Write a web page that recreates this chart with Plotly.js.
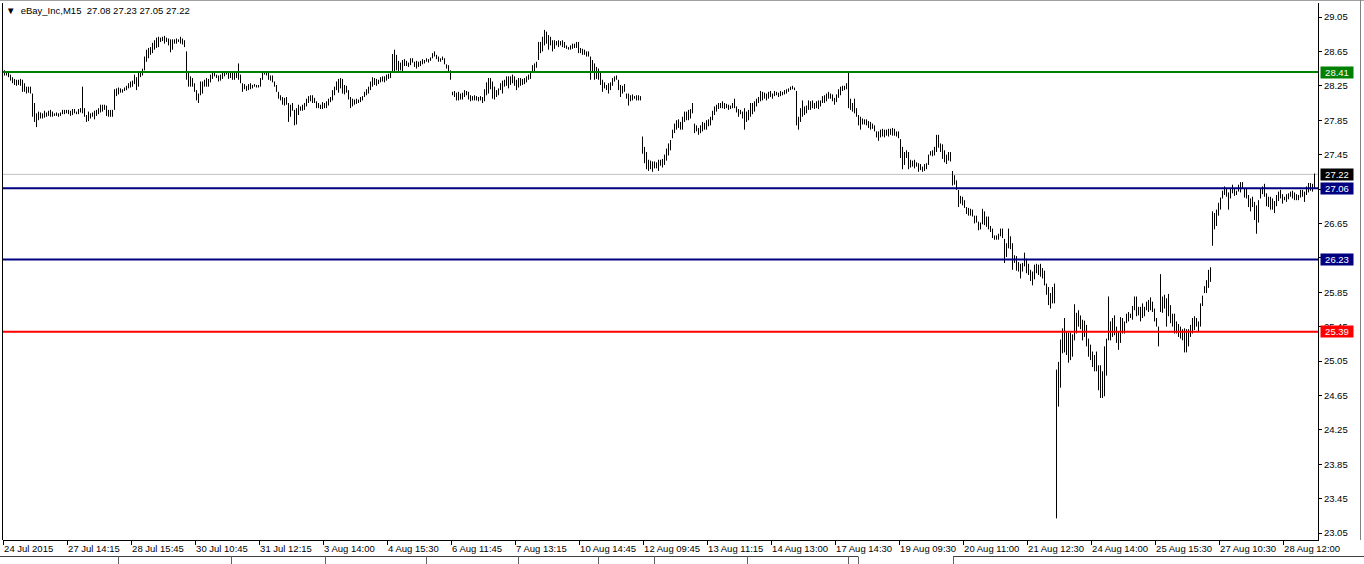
<!DOCTYPE html>
<html>
<head>
<meta charset="utf-8">
<script src="https://cdn.plot.ly/plotly-3.0.1.min.js"></script>
<style>
html,body{margin:0;padding:0;background:#ffffff;overflow:hidden;}
#chart{width:1364px;height:564px;}
</style>
</head>
<body>
<div id="chart"></div>
<script>
// ---------------- data ----------------
const symbol = "eBay_Inc,M15";
const lastBar = [27.08, 27.23, 27.05, 27.22]; // open, high, low, close of last bar
const bidPrice = 27.22;

const highs = [
28.43,28.42,28.41,28.38,28.35,28.33,28.32,28.32,28.33,28.32,
28.28,28.24,28.24,28.24,28.16,28.05,27.93,27.95,27.94,27.93,
27.96,27.94,27.96,27.97,27.95,27.93,27.94,27.93,27.94,27.97,
27.97,27.97,27.97,27.96,27.98,27.98,27.95,27.98,27.99,28.24,
27.99,27.91,27.95,27.93,27.94,27.96,27.97,27.99,28.03,28.03,
28.03,28.02,27.97,27.97,27.97,28.21,28.22,28.23,28.22,28.21,
28.23,28.25,28.28,28.30,28.31,28.38,28.35,28.40,28.42,28.45,
28.59,28.67,28.69,28.70,28.75,28.78,28.81,28.82,28.81,28.82,
28.83,28.81,28.80,28.79,28.79,28.79,28.80,28.79,28.82,28.80,
28.78,28.65,28.41,28.36,28.34,28.28,28.20,28.16,28.30,28.30,
28.32,28.34,28.33,28.38,28.41,28.41,28.38,28.37,28.38,28.40,
28.41,28.42,28.41,28.41,28.40,28.40,28.41,28.51,28.38,28.28,
28.27,28.25,28.27,28.28,28.26,28.27,28.26,28.26,28.34,28.42,
28.42,28.42,28.40,28.37,28.37,28.30,28.26,28.18,28.14,28.12,
28.11,28.12,28.05,28.03,28.05,27.97,27.99,28.03,28.01,28.03,
28.05,28.10,28.13,28.14,28.14,28.11,28.07,28.05,28.03,28.06,
28.05,28.07,28.10,28.12,28.20,28.24,28.30,28.33,28.34,28.33,
28.26,28.25,28.20,28.12,28.10,28.09,28.10,28.09,28.12,28.13,
28.18,28.21,28.24,28.30,28.35,28.34,28.33,28.32,28.35,28.36,
28.36,28.38,28.39,28.40,28.62,28.67,28.61,28.54,28.52,28.55,
28.56,28.54,28.52,28.57,28.57,28.53,28.54,28.53,28.54,28.56,
28.55,28.57,28.56,28.58,28.63,28.65,28.61,28.59,28.57,28.59,
28.57,28.50,28.49,28.43,28.18,28.19,28.17,28.18,28.16,28.17,
28.20,28.19,28.18,28.14,28.13,28.14,28.13,28.12,28.13,28.12,
28.21,28.29,28.34,28.34,28.30,28.24,28.20,28.22,28.28,28.31,
28.32,28.36,28.36,28.36,28.38,28.36,28.32,28.34,28.34,28.33,
28.34,28.36,28.38,28.40,28.49,28.51,28.53,28.76,28.76,28.82,
28.90,28.88,28.84,28.82,28.78,28.78,28.77,28.78,28.77,28.78,
28.76,28.72,28.70,28.72,28.74,28.74,28.76,28.76,28.69,28.68,
28.67,28.65,28.65,28.59,28.55,28.51,28.47,28.45,28.40,28.32,
28.29,28.26,28.28,28.29,28.34,28.36,28.37,28.32,28.26,28.25,
28.27,28.16,28.16,28.14,28.15,28.13,28.14,28.14,28.13,27.66,
27.54,27.48,27.39,27.38,27.37,27.37,27.36,27.39,27.39,27.40,
27.45,27.52,27.58,27.62,27.74,27.81,27.85,27.86,27.83,27.89,
27.95,27.95,27.97,27.98,28.05,27.81,27.79,27.76,27.79,27.83,
27.82,27.85,27.86,27.89,27.96,28.01,28.03,28.05,28.05,28.07,
28.05,28.04,28.03,28.02,28.05,28.10,28.01,27.98,27.97,27.95,
27.99,27.95,27.97,28.05,28.05,28.07,28.10,28.12,28.19,28.18,
28.17,28.16,28.18,28.19,28.16,28.19,28.18,28.17,28.19,28.18,
28.20,28.21,28.22,28.24,28.25,28.23,28.19,27.89,27.99,28.08,
28.01,28.02,28.08,28.07,28.08,28.05,28.07,28.08,28.08,28.13,
28.14,28.16,28.18,28.16,28.15,28.11,28.15,28.21,28.24,28.25,
28.25,28.28,28.42,28.10,28.05,28.10,27.99,27.91,27.89,27.87,
27.86,27.86,27.84,27.83,27.81,27.79,27.72,27.72,27.74,27.75,
27.74,27.74,27.75,27.75,27.76,27.75,27.72,27.72,27.63,27.54,
27.48,27.50,27.48,27.39,27.38,27.39,27.36,27.35,27.34,27.31,
27.34,27.35,27.45,27.49,27.50,27.54,27.68,27.68,27.58,27.57,
27.50,27.45,27.48,27.48,27.26,27.21,27.15,27.04,26.97,26.96,
26.92,26.84,26.83,26.82,26.81,26.74,26.74,26.67,26.66,26.82,
26.79,26.73,26.73,26.62,26.59,26.51,26.51,26.53,26.59,26.59,
26.47,26.42,26.59,26.50,26.42,26.28,26.27,26.20,26.18,26.19,
26.31,26.24,26.18,26.11,26.09,26.17,26.18,26.17,26.18,26.13,
26.10,25.95,25.91,25.84,25.91,25.95,24.95,25.04,25.30,25.43,
25.55,25.39,25.38,25.38,25.36,25.71,25.61,25.64,25.58,25.53,
25.52,25.47,25.31,25.24,25.16,25.12,25.16,25.00,25.00,24.93,
25.22,25.31,25.80,25.51,25.55,25.58,25.45,25.39,25.56,25.55,
25.51,25.60,25.62,25.60,25.69,25.80,25.80,25.68,25.68,25.72,
25.68,25.74,25.76,25.79,25.74,25.66,25.55,25.45,26.06,25.80,
25.82,25.78,25.83,25.70,25.60,25.60,25.51,25.48,25.45,25.42,
25.43,25.42,25.42,25.47,25.55,25.57,25.55,25.51,25.72,25.81,
25.92,25.99,26.11,26.14,26.79,26.77,26.81,26.89,26.95,27.03,
27.08,27.06,27.01,27.06,27.10,27.06,27.03,27.10,27.13,27.13,
27.06,27.06,26.98,26.94,26.96,26.90,26.86,26.92,27.06,27.08,
27.11,27.00,26.96,26.96,26.94,26.91,26.98,27.02,27.04,26.99,
26.96,26.99,27.00,27.02,27.03,27.01,26.99,26.98,27.04,27.04,
27.02,27.08,27.12,27.12,27.11,27.23
];

const lows = [
28.37,28.37,28.35,28.31,28.28,28.26,28.25,28.26,28.25,28.18,
28.18,28.16,28.17,28.16,27.89,27.83,27.77,27.85,27.87,27.87,
27.88,27.89,27.90,27.89,27.89,27.90,27.90,27.89,27.90,27.92,
27.92,27.93,27.92,27.90,27.91,27.93,27.92,27.92,27.94,27.93,
27.89,27.83,27.84,27.87,27.89,27.86,27.90,27.92,27.94,27.95,
27.97,27.90,27.89,27.89,27.89,27.97,28.13,28.15,28.17,28.17,
28.19,28.20,28.22,28.23,28.24,28.27,28.20,28.24,28.35,28.37,
28.43,28.53,28.57,28.61,28.63,28.67,28.69,28.70,28.76,28.77,
28.74,28.76,28.72,28.64,28.67,28.74,28.74,28.76,28.74,28.73,
28.70,28.32,28.24,28.24,28.24,28.18,28.08,28.05,28.14,28.16,
28.24,28.24,28.24,28.29,28.33,28.36,28.34,28.30,28.31,28.33,
28.36,28.38,28.33,28.34,28.32,28.32,28.34,28.32,28.28,28.18,
28.21,28.19,28.20,28.21,28.22,28.24,28.23,28.23,28.24,28.32,
28.38,28.37,28.32,28.31,28.29,28.24,28.18,28.10,28.08,28.03,
28.02,28.03,27.83,27.89,27.96,27.79,27.80,27.91,27.96,27.96,
27.97,28.01,28.05,28.07,28.05,28.05,27.99,27.99,27.98,27.98,
27.99,27.99,28.02,28.06,28.08,28.14,28.20,28.17,28.22,28.16,
28.15,28.17,28.09,27.99,28.01,28.03,28.04,28.05,28.06,28.08,
28.12,28.14,28.16,28.20,28.24,28.26,28.25,28.27,28.29,28.30,
28.29,28.31,28.33,28.34,28.40,28.40,28.43,28.40,28.43,28.40,
28.48,28.48,28.47,28.49,28.52,28.47,28.45,28.47,28.48,28.50,
28.51,28.53,28.52,28.54,28.57,28.59,28.56,28.53,28.53,28.55,
28.50,28.45,28.40,28.32,28.14,28.12,28.08,28.08,28.09,28.09,
28.12,28.14,28.09,28.07,28.08,28.08,28.08,28.07,28.08,28.05,
28.07,28.14,28.16,28.21,28.10,28.09,28.12,28.14,28.20,28.16,
28.24,28.25,28.22,28.26,28.28,28.25,28.20,28.23,28.25,28.26,
28.27,28.29,28.32,28.33,28.40,28.41,28.46,28.55,28.63,28.65,
28.72,28.74,28.67,28.72,28.65,28.68,28.72,28.70,28.72,28.70,
28.69,28.68,28.67,28.67,28.68,28.69,28.69,28.63,28.63,28.61,
28.61,28.59,28.59,28.32,28.41,28.32,28.33,28.32,28.26,28.18,
28.22,28.20,28.16,28.20,28.25,28.30,28.32,28.20,28.12,28.16,
28.18,28.10,28.02,28.07,28.08,28.10,28.08,28.08,28.08,27.46,
27.35,27.28,27.26,27.28,27.25,27.29,27.29,27.26,27.32,27.30,
27.33,27.38,27.44,27.50,27.64,27.70,27.74,27.76,27.74,27.74,
27.83,27.85,27.85,27.87,27.93,27.70,27.72,27.68,27.70,27.72,
27.74,27.74,27.78,27.79,27.85,27.91,27.95,27.98,27.99,27.99,
27.98,27.99,27.97,27.98,27.99,27.99,27.94,27.89,27.92,27.87,
27.74,27.83,27.85,27.89,27.92,27.95,28.01,28.05,28.07,28.08,
28.10,28.08,28.10,28.12,28.10,28.13,28.14,28.12,28.13,28.14,
28.15,28.16,28.18,28.20,28.21,28.20,27.79,27.74,27.83,27.89,
27.91,27.93,27.97,27.97,27.99,27.98,27.99,27.98,28.01,28.05,
28.05,28.07,28.10,28.10,28.07,28.03,28.06,28.11,28.14,28.19,
28.20,28.21,27.99,27.97,27.95,27.93,27.89,27.79,27.74,27.80,
27.80,27.79,27.76,27.74,27.75,27.72,27.65,27.61,27.65,27.66,
27.65,27.67,27.66,27.68,27.67,27.67,27.66,27.64,27.41,27.28,
27.33,27.41,27.28,27.30,27.31,27.29,27.31,27.25,27.27,27.25,
27.26,27.28,27.33,27.44,27.43,27.44,27.48,27.53,27.48,27.40,
27.36,27.34,27.38,27.37,27.09,27.10,27.04,26.84,26.88,26.86,
26.83,26.76,26.74,26.74,26.73,26.65,26.66,26.57,26.58,26.64,
26.63,26.61,26.58,26.55,26.48,26.46,26.46,26.46,26.50,26.48,
26.19,26.26,26.36,26.35,26.11,26.19,26.10,26.09,26.01,26.09,
26.15,26.07,26.05,25.98,25.93,26.00,26.07,26.05,26.03,26.01,
25.93,25.82,25.70,25.66,25.72,25.72,23.22,24.52,24.74,25.14,
25.15,25.12,25.03,25.06,25.10,25.29,25.37,25.45,25.42,25.29,
25.33,25.22,25.10,25.06,24.98,24.93,24.93,24.71,24.62,24.62,
24.64,24.88,25.29,25.29,25.33,25.35,25.26,25.18,25.26,25.37,
25.37,25.49,25.51,25.55,25.53,25.64,25.57,25.58,25.51,25.55,
25.57,25.64,25.62,25.64,25.62,25.51,25.45,25.22,25.62,25.61,
25.66,25.45,25.57,25.49,25.45,25.37,25.37,25.33,25.31,25.29,
25.15,25.15,25.22,25.33,25.37,25.41,25.45,25.39,25.45,25.69,
25.84,25.84,25.90,25.97,26.39,26.58,26.62,26.74,26.81,26.94,
26.98,26.96,26.81,26.94,27.00,26.97,26.98,27.02,27.01,27.05,
26.95,26.94,26.84,26.79,26.84,26.69,26.53,26.66,26.94,26.99,
26.96,26.85,26.84,26.81,26.81,26.77,26.85,26.91,26.94,26.88,
26.92,26.90,26.93,26.96,26.94,26.92,26.92,26.92,26.95,26.96,
26.90,26.98,27.01,27.03,27.02,27.05
];

// time-axis labels (one every 32 bars)
const timeLabels = [
"24 Jul 2015","27 Jul 14:15","28 Jul 15:45","30 Jul 10:45","31 Jul 12:15",
"3 Aug 14:00","4 Aug 15:30","6 Aug 11:45","7 Aug 13:15","10 Aug 14:45",
"12 Aug 09:45","13 Aug 11:15","14 Aug 13:00","17 Aug 14:30","19 Aug 09:30",
"20 Aug 11:00","21 Aug 12:30","24 Aug 14:00","25 Aug 15:30","27 Aug 10:30",
"28 Aug 12:00"
];

// horizontal levels drawn on the chart
const levelPrices = [28.41, 27.06, 26.23, 25.39];
const levelColors = ["#008000", "#000080", "#000080", "#ff0000"];

// ---------------- layout constants ----------------
const BARS_PER_LABEL = 32;
const W = 1364, H = 564;
const ML = 3, MR = 46, MT = 3, MB = 24;
const PW = W - ML - MR, PH = H - MT - MB;
const FONT = "'Liberation Sans', Arial, sans-serif";
const FS = 9.5;

// pixel helpers for decorations outside the data area
const px = p => (p - ML) / PW;
const py = p => (H - MB - p) / PH;

// ---------------- build traces ----------------
const n = highs.length;
const xs = [], ys = [];
for (let i = 0; i < n; i++) {
  xs.push(i, i, null);
  ys.push(highs[i], lows[i], null);
}
const barsTrace = {
  type: "scatter", mode: "lines",
  x: xs, y: ys,
  line: {color: "#000000", width: 1},
  hoverinfo: "skip", showlegend: false
};

const tickVals = timeLabels.map((_, k) => k * BARS_PER_LABEL - 0.7);

const shapes = [];
// levels
levelPrices.forEach((p, k) => {
  shapes.push({type: "line", xref: "paper", yref: "y", x0: 0, x1: 1, y0: p, y1: p,
    line: {color: levelColors[k], width: 2}, layer: "above"});
});
// bid line
shapes.push({type: "line", xref: "paper", yref: "y", x0: 0, x1: 1, y0: bidPrice, y1: bidPrice,
  line: {color: "#c0c0c0", width: 1}, layer: "below"});
// left frame
shapes.push({type: "line", xref: "paper", yref: "paper", x0: px(2.5), x1: px(2.5), y0: py(3), y1: py(540),
  line: {color: "#000000", width: 1}});
// top window edge
shapes.push({type: "line", xref: "paper", yref: "paper", x0: px(0), x1: px(1364), y0: py(0.5), y1: py(0.5),
  line: {color: "#a0a0a0", width: 1}});
// right window edge
shapes.push({type: "line", xref: "paper", yref: "paper", x0: px(1360.5), x1: px(1360.5), y0: py(0), y1: py(540),
  line: {color: "#808080", width: 1}});
// bottom strip
shapes.push({type: "line", xref: "paper", yref: "paper", x0: px(0), x1: px(858), y0: py(556.5), y1: py(556.5),
  line: {color: "#404040", width: 1}});
shapes.push({type: "line", xref: "paper", yref: "paper", x0: px(953), x1: px(1364), y0: py(556.5), y1: py(556.5),
  line: {color: "#404040", width: 1}});
[118.5, 231.5, 325.5, 426.5, 518.5, 598.5, 654.5, 747.5, 848.5, 858.5, 953.5].forEach(xp => {
  shapes.push({type: "line", xref: "paper", yref: "paper", x0: px(xp), x1: px(xp), y0: py(556.5), y1: py(564),
    line: {color: "#606060", width: 1}});
});

const annotations = [];
// title
annotations.push({
  xref: "paper", yref: "paper", x: px(4), y: py(11), xanchor: "left", yanchor: "middle",
  showarrow: false, align: "left",
  text: "\u25BC\u00A0\u00A0" + symbol + "\u00A0\u00A0" + lastBar.map(v => v.toFixed(2)).join("\u00A0"),
  font: {family: FONT, size: FS, color: "#000000"}
});
// price labels on the axis
const tagPrices = [levelPrices[0], bidPrice, levelPrices[1], levelPrices[2], levelPrices[3]];
const tagColors = [levelColors[0], "#000000", levelColors[1], levelColors[2], levelColors[3]];
tagPrices.forEach((p, k) => {
  annotations.push({
    xref: "paper", yref: "y", x: 1, y: p, xanchor: "left", yanchor: "middle", xshift: 2,
    showarrow: false, text: p.toFixed(2), bgcolor: tagColors[k], borderpad: 0,
    width: 32, height: 11, align: "center",
    font: {family: FONT, size: FS, color: "#ffffff"}
  });
});

const layout = {
  width: W, height: H,
  margin: {l: ML, r: MR, t: MT, b: MB, pad: 0},
  paper_bgcolor: "#ffffff", plot_bgcolor: "#ffffff",
  showlegend: false,
  xaxis: {
    range: [-0.75, PW / 2 - 0.75],
    showgrid: false, zeroline: false, fixedrange: true,
    showline: true, linecolor: "#000000", linewidth: 1,
    ticks: "outside", ticklen: 4, tickcolor: "#000000", tickwidth: 1,
    tickmode: "array", tickvals: tickVals, ticktext: timeLabels,
    ticklabelposition: "outside right", tickangle: 0,
    tickfont: {family: FONT, size: FS, color: "#000000"},
    automargin: false
  },
  yaxis: {
    side: "right",
    range: [29.05 - (540 - 17) / 86, 29.05 + (17 - 3) / 86],
    showgrid: false, zeroline: false, fixedrange: true,
    showline: true, linecolor: "#000000", linewidth: 1,
    ticks: "outside", ticklen: 3, tickcolor: "#000000",
    tickmode: "linear", tick0: 23.05, dtick: 0.4, tickformat: ".2f",
    tickfont: {family: FONT, size: FS, color: "#000000"},
    automargin: false
  },
  shapes: shapes,
  annotations: annotations
};

Plotly.newPlot("chart", [barsTrace], layout, {displayModeBar: false, staticPlot: true});
</script>
</body>
</html>
